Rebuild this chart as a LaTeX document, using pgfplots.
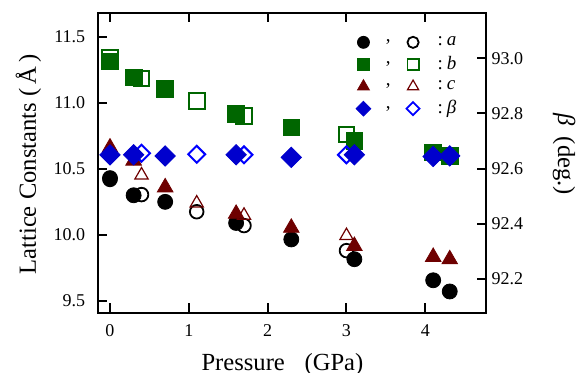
\documentclass[border=0pt]{standalone}
\usepackage{pgfplots}
\pgfplotsset{compat=1.18}
\usepackage{fontspec}
\setmainfont{Liberation Serif}
\definecolor{cgreen}{RGB}{0,102,0}
\definecolor{cred}{RGB}{110,0,0}
\definecolor{cblue}{RGB}{0,0,205}
\definecolor{cblue2}{RGB}{0,0,255}
\pgfplotsset{
  common/.style={
    scale only axis, width=194.15pt, height=149.85pt,
    xmin=-0.156, xmax=4.77,
    axis line style={line width=1.1pt},
    major tick length=4.6pt,
    every tick/.style={line width=1pt, black},
    tick align=inside,
    tick label style={font=\fontsize{9}{10}\selectfont},
    /pgf/number format/assume math mode=true,
    label style={font=\fontsize{12.3}{14}\selectfont},
  },
}
\begin{document}
\begin{tikzpicture}
\begin{axis}[common,
  ymin=9.409, ymax=11.683,
  xtick={0,1,2,3,4}, xtick pos=both, xticklabel pos=bottom,
  ytick={9.5,10,10.5,11,11.5}, ytick pos=left,
  yticklabel style={/pgf/number format/.cd, fixed, fixed zerofill, precision=1, /tikz/.cd, xshift=-2.7pt},
  xticklabel style={yshift=-2.5pt},
  xlabel={Pressure\hspace{0.8em}(GPa)},
  xlabel style={at={([xshift=-4.7pt,yshift=-29pt]axis description cs:0.5,0)}, anchor=base},
  ylabel={Lattice Constants (\,Å\,)},
  ylabel style={at={([xshift=-30.85pt,yshift=-0.8pt]axis description cs:0,0.5)}, anchor=base},
]
% a
\addplot[only marks, mark=o, mark size=3.4pt, black, mark options={line width=0.9pt}] coordinates {
(0,10.42) (0.4,10.305) (1.1,10.175) (1.7,10.07) (3.0,9.88)};
\addplot[only marks, mark=*, mark size=3.75pt, black] coordinates {
(0,10.43) (0.3,10.30) (0.7,10.25) (1.6,10.09) (2.3,9.965) (3.1,9.815) (4.1,9.655) (4.31,9.57)};
% c
\addplot[only marks, mark=triangle, mark size=3.8pt, cred, mark options={line width=0.6pt}] coordinates {
(0.4,10.453) (1.1,10.24) (1.7,10.147) (3.0,9.993)};
\addplot[only marks, mark=triangle*, mark size=4.5pt, cred] coordinates {
(0,10.662) (0.3,10.563) (0.7,10.36) (1.6,10.159) (2.3,10.053) (3.1,9.915) (4.1,9.832) (4.31,9.814)};
% b
\addplot[only marks, mark=square, mark size=3.9pt, cgreen, mark options={line width=1pt}] coordinates {
(0,11.345) (0.4,11.185) (1.1,11.015) (1.7,10.90) (3.0,10.76)};
\addplot[only marks, mark=square*, mark size=4.2pt, cgreen] coordinates {
(0,11.315) (0.3,11.195) (0.7,11.11) (1.6,10.92) (2.3,10.815) (3.1,10.71) (4.1,10.625) (4.31,10.596)};
\end{axis}
\begin{axis}[common,
  ymin=92.078, ymax=93.164,
  xtick=\empty,
  ytick={92.2,92.4,92.6,92.8,93.0}, ytick pos=right, yticklabel pos=right,
  yticklabel style={/pgf/number format/.cd, fixed, fixed zerofill, precision=1, /tikz/.cd, xshift=-0.75pt},
  ylabel={\textit{β}\hspace{0.45em}(deg.)},
  ylabel style={at={([xshift=36pt,yshift=4.25pt]axis description cs:1,0.5)}, anchor=base, rotate=180},
  legend columns=2,
  legend cell align=left,
  legend style={draw=none, fill=none, at={(axis description cs:0.649,0.95)}, anchor=north west,
    font=\fontsize{9.5}{11}\selectfont,
    /tikz/every even column/.append style={column sep=6pt}},
]
\addlegendimage{only marks, mark=*, mark size=3pt, black}
\addlegendentry{\hspace{5.5pt},}
\addlegendimage{only marks, mark=o, mark size=2.8pt, black, mark options={line width=0.9pt}}
\addlegendentry{\hspace{7pt}:\hspace{2pt}\textit{a}}
\addlegendimage{only marks, mark=square*, mark size=3.2pt, cgreen}
\addlegendentry{\hspace{5.5pt},}
\addlegendimage{only marks, mark=square, mark size=2.8pt, cgreen, mark options={line width=0.9pt}}
\addlegendentry{\hspace{7pt}:\hspace{2pt}\textit{b}}
\addlegendimage{only marks, mark=triangle*, mark size=3.4pt, cred}
\addlegendentry{\hspace{5.5pt},}
\addlegendimage{only marks, mark=triangle, mark size=3.2pt, cred, mark options={line width=0.6pt}}
\addlegendentry{\hspace{7pt}:\hspace{2pt}\textit{c}}
\addlegendimage{only marks, mark=square*, mark size=2.6pt, cblue, mark options={rotate=45}}
\addlegendentry{\hspace{5.5pt},}
\addlegendimage{only marks, mark=square, mark size=2.3pt, cblue2, mark options={rotate=45, line width=0.9pt}}
\addlegendentry{\hspace{7pt}:\hspace{2pt}\textit{β}}
\addplot[forget plot, only marks, mark=square, mark size=3.0pt, cblue2, mark options={rotate=45, line width=1pt}] coordinates {
(0.4,92.656) (1.1,92.652) (1.7,92.65) (3.0,92.65)};
\addplot[forget plot, only marks, mark=square*, mark size=3.6pt, cblue, mark options={rotate=45}] coordinates {
(0,92.65) (0.3,92.65) (0.7,92.646) (1.6,92.65) (2.3,92.641) (3.1,92.65) (4.1,92.644) (4.31,92.646)};
\end{axis}
\pgfresetboundingbox
\useasboundingbox (-48.85pt,-30.15pt) rectangle (240.15pt,156.35pt);
\end{tikzpicture}
\end{document}
